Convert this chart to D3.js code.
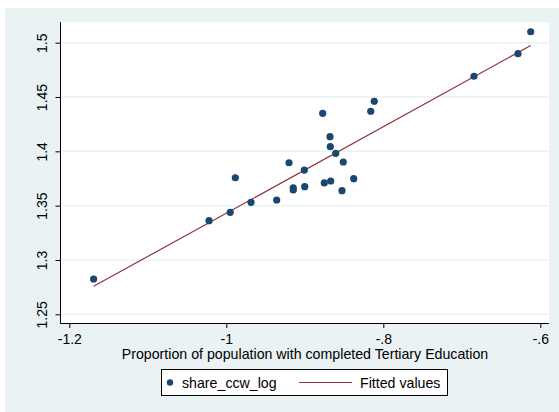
<!DOCTYPE html>
<html>
<head>
<meta charset="utf-8">
<script src="https://cdn.jsdelivr.net/npm/d3@7"></script>
<style>
  html, body { margin: 0; padding: 0; background: #ffffff; }
  svg { display: block; font-family: "Liberation Sans", Arial, Helvetica, sans-serif; }
</style>
</head>
<body>
<svg id="chart" width="559" height="412"></svg>
<script>
// ---- data ----
const tertiaryLog = [
  -1.169, -1.022, -0.995, -0.9885, -0.9685, -0.9358, -0.9201, -0.9147, -0.9147,
  -0.9006, -0.9001, -0.8772, -0.8752, -0.867, -0.8679, -0.8675, -0.8606, -0.851,
  -0.8526, -0.8377, -0.816, -0.8115, -0.6845, -0.6284, -0.6122
];
const shareCcwLog = [
  1.2825, 1.3362, 1.3439, 1.3757, 1.3531, 1.3552, 1.3895, 1.3665, 1.3644,
  1.3828, 1.3675, 1.4350, 1.3709, 1.3727, 1.4135, 1.4043, 1.3982, 1.3902,
  1.3638, 1.3748, 1.4369, 1.4461, 1.4691, 1.4899, 1.5101
];
const fittedX = [-1.169, -0.6122];
const fittedY = [1.2758, 1.4974];
const xTicks = [-1.2, -1, -0.8, -0.6];
const xTickLabels = ["-1.2", "-1", "-.8", "-.6"];
const yTicks = [1.25, 1.3, 1.35, 1.4, 1.45, 1.5];
const yTickLabels = ["1.25", "1.3", "1.35", "1.4", "1.45", "1.5"];
const xTitle = "Proportion of population with completed Tertiary Education";
const legendLabels = ["share_ccw_log", "Fitted values"];

// ---- styling ----
const bg = "#EAF2F3";
const dotColor = "#1A476F";
const lineColor = "#90353B";

const svg = d3.select("#chart");

// outer panel
svg.append("rect").attr("x", 5).attr("y", 8).attr("width", 554).attr("height", 404).attr("fill", bg);

// plot region
const plot = { left: 60.5, right: 549, top: 22, bottom: 323 };
svg.append("rect")
  .attr("x", plot.left).attr("y", plot.top)
  .attr("width", plot.right - plot.left).attr("height", plot.bottom - plot.top)
  .attr("fill", "#ffffff");

const x = d3.scaleLinear().domain([-1.2, -0.6]).range([69.3, 540.3]);
const y = d3.scaleLinear().domain([1.25, 1.5]).range([314.3, 42.7]);

// gridlines
svg.append("g").selectAll("line").data(yTicks).join("line")
  .attr("x1", plot.left).attr("x2", plot.right)
  .attr("y1", d => y(d)).attr("y2", d => y(d))
  .attr("stroke", bg).attr("stroke-width", 1.5);

// x axis
const xAxis = d3.axisBottom(x).tickValues(xTicks)
  .tickFormat((d, i) => xTickLabels[i]).tickSize(5).tickSizeOuter(0).tickPadding(6);
const gx = svg.append("g").attr("transform", `translate(0,${plot.bottom})`).call(xAxis);
gx.select(".domain").attr("d", `M${plot.left},0.5H${plot.right}`).attr("stroke", "#000");
gx.selectAll(".tick line").attr("stroke", "#000");
gx.selectAll(".tick text").attr("font-size", 14).attr("fill", "#000")
  .attr("font-family", "'Liberation Sans', Arial, sans-serif");

// y axis
const yAxis = d3.axisLeft(y).tickValues(yTicks)
  .tickFormat((d, i) => yTickLabels[i]).tickSize(5).tickSizeOuter(0).tickPadding(0);
const gy = svg.append("g").attr("transform", `translate(${plot.left},0)`).call(yAxis);
gy.select(".domain").attr("d", `M0,${plot.top}V${plot.bottom + 0.5}`).attr("stroke", "#000");
gy.selectAll(".tick line").attr("stroke", "#000");
gy.selectAll(".tick text")
  .attr("font-size", 14).attr("fill", "#000")
  .attr("font-family", "'Liberation Sans', Arial, sans-serif")
  .attr("text-anchor", "middle")
  .attr("dy", null)
  .attr("x", null)
  .attr("transform", "translate(-14,0) rotate(-90)")
  .attr("y", 0);

// fitted line
svg.append("path")
  .datum(fittedX.map((d, i) => [d, fittedY[i]]))
  .attr("d", d3.line().x(d => x(d[0])).y(d => y(d[1])))
  .attr("fill", "none").attr("stroke", lineColor).attr("stroke-width", 1.2);

// points
svg.append("g").selectAll("circle").data(tertiaryLog).join("circle")
  .attr("cx", d => x(d)).attr("cy", (d, i) => y(shareCcwLog[i]))
  .attr("r", 3.6).attr("fill", dotColor);

// x title
svg.append("text").attr("x", 305).attr("y", 359).attr("text-anchor", "middle")
  .attr("font-size", 14.2).attr("fill", "#000").text(xTitle);

// legend
const lg = svg.append("g");
lg.append("rect").attr("x", 161.5).attr("y", 369.5).attr("width", 286).attr("height", 26)
  .attr("fill", "#fff").attr("stroke", "#000").attr("stroke-width", 1);
lg.append("circle").attr("cx", 170).attr("cy", 382.5).attr("r", 3.2).attr("fill", dotColor);
lg.append("text").attr("x", 182).attr("y", 387.5).attr("font-size", 14.2).attr("fill", "#000").text(legendLabels[0]);
lg.append("line").attr("x1", 299).attr("x2", 352).attr("y1", 382.5).attr("y2", 382.5)
  .attr("stroke", lineColor).attr("stroke-width", 1.2);
lg.append("text").attr("x", 360).attr("y", 387.5).attr("font-size", 14.2).attr("fill", "#000").text(legendLabels[1]);
</script>
</body>
</html>
